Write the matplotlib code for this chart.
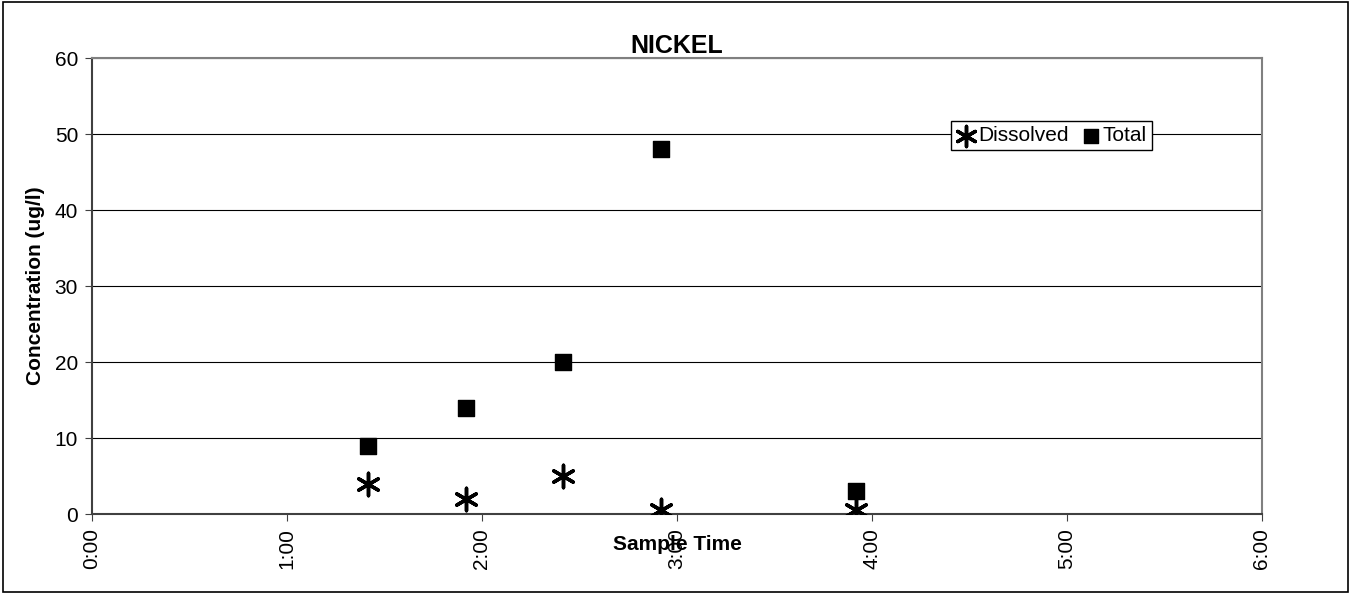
import numpy as np
import matplotlib
matplotlib.use("Agg")
import matplotlib.pyplot as plt
from matplotlib.patches import Rectangle
from matplotlib.ticker import FuncFormatter, MultipleLocator

plt.rcParams['font.family'] = ['Liberation Sans', 'DejaVu Sans']

# sample times (h:mm) and concentrations (ug/l)
sample_times = ["1:25", "1:55", "2:25", "2:55", "3:55"]
dissolved = [4, 2, 5, 0.5, 0.5]
total = [9, 14, 20, 48, 3]
x_ticks = ["0:00", "1:00", "2:00", "3:00", "4:00", "5:00", "6:00"]


def to_hours(s):
    h, m = s.split(":")
    return int(h) + int(m) / 60.0


hours = [to_hours(t) for t in sample_times]

fig = plt.figure(figsize=(13.55, 5.94), dpi=100)
ax = fig.add_axes([92 / 1355, 1 - 514 / 594, (1262 - 92) / 1355, (514 - 58) / 594])

# outer frame around the chart
fig.patches.append(Rectangle((0.002, 0.003), 0.993, 0.994, transform=fig.transFigure,
                             fill=False, edgecolor='black', linewidth=1.2))

ax.scatter(hours, dissolved, marker=(6, 2, 0), s=260, color='black', linewidths=2.5,
           label='Dissolved', zorder=3)
ax.scatter(hours, total, marker='s', s=135, color='black', label='Total', zorder=3)

ax.set_xlim(0, 6)
ax.set_ylim(0, 60)
ax.xaxis.set_major_locator(MultipleLocator(1))
ax.xaxis.set_major_formatter(FuncFormatter(lambda v, p: x_ticks[int(round(v))] if 0 <= round(v) < len(x_ticks) else ""))
ax.yaxis.set_major_locator(MultipleLocator(10))
ax.grid(axis='y', color='black', linewidth=0.8)
ax.set_axisbelow(True)

ax.tick_params(axis='both', labelsize=15, length=5, color='#404040')
ax.tick_params(axis='x', labelrotation=90, pad=5)
ax.tick_params(axis='y', pad=5)

for side in ['top', 'right']:
    ax.spines[side].set_color('#808080')
    ax.spines[side].set_linewidth(1.5)
for side in ['left', 'bottom']:
    ax.spines[side].set_color('#404040')
    ax.spines[side].set_linewidth(1.5)

ax.set_title("NICKEL", fontsize=18, fontweight='bold', pad=2)
ax.set_xlabel("Sample Time", fontsize=15, fontweight='bold')
ax.xaxis.set_label_coords(0.5, -0.045)
ax.set_ylabel("Concentration (ug/l)", fontsize=15, fontweight='bold')
ax.yaxis.set_label_coords(-0.04, 0.5)

leg = ax.legend(loc='center', bbox_to_anchor=(0.82, 0.83), ncol=2, fontsize=15,
                frameon=True, fancybox=False, framealpha=1, edgecolor='black',
                handletextpad=0.05, columnspacing=0.6, borderpad=0.25, handlelength=1.0,
                borderaxespad=0, markerscale=0.9)
leg.get_frame().set_linewidth(1.0)

fig.savefig("out.png", dpi=100)
